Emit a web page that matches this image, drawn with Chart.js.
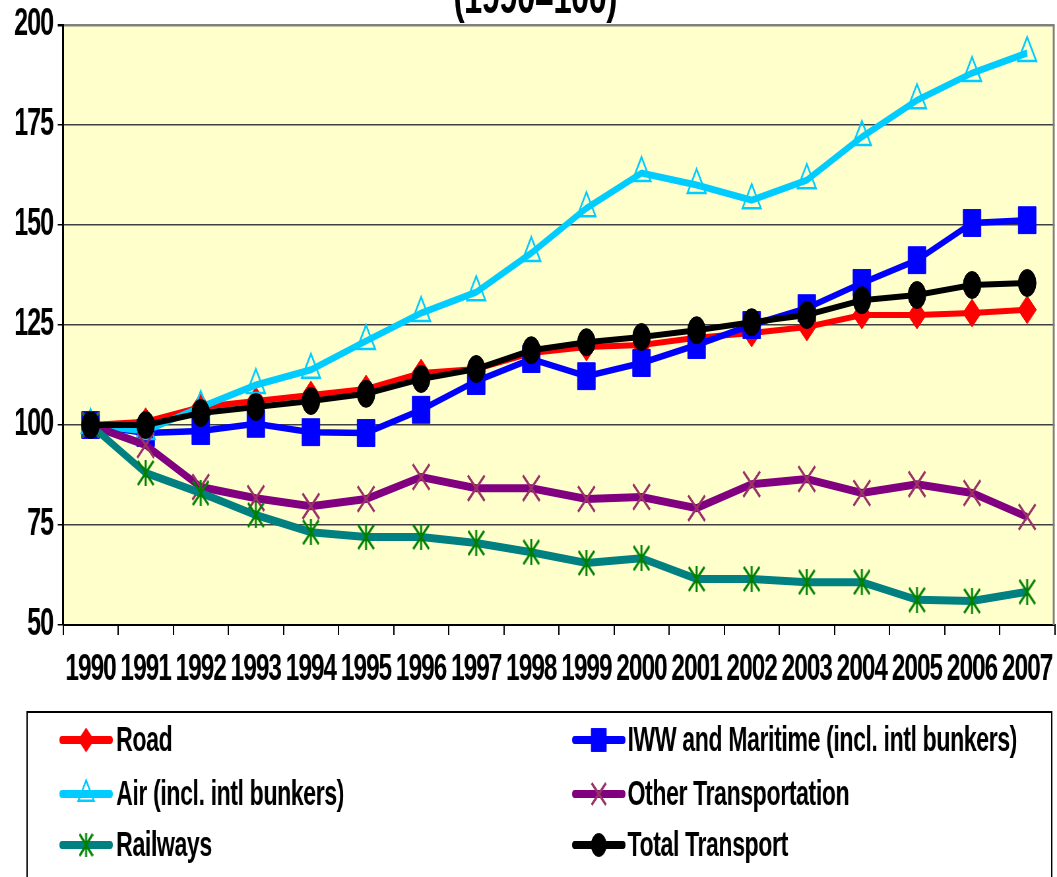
<!DOCTYPE html>
<html>
<head>
<meta charset="utf-8">
<script src="https://cdn.jsdelivr.net/npm/chart.js@4"></script>
<style>
html, body { margin: 0; padding: 0; overflow: hidden; background: #ffffff; width: 1057px; height: 877px; }
#wrap { width: 1602px; height: 877px; transform: scaleX(0.6598); transform-origin: 0 0; }
canvas { display: block; }
</style>
</head>
<body>
<div id="wrap"><canvas id="c" width="1602" height="877" style="width:1602px;height:877px"></canvas></div>
<script>
// ---- Data (index, 1990 = 100) ----
const years = ['1990','1991','1992','1993','1994','1995','1996','1997','1998','1999','2000','2001','2002','2003','2004','2005','2006','2007'];
const road  = [100, 100.8, 104.5, 106, 107.5, 109, 113, 114, 118, 119.5, 120, 121.8, 123, 124.5, 127.5, 127.5, 128, 128.8];
const iww   = [100, 98, 98.5, 100.3, 98.2, 98, 103.8, 111, 116.5, 112.2, 115.5, 120, 125, 129.2, 135.5, 141.2, 150.5, 151.2];
const air   = [100, 98.5, 104.5, 110, 113.8, 121, 128, 133.2, 143, 154.2, 163, 160, 156.2, 161.2, 172, 181.2, 188, 193];
const other = [100, 95, 84.5, 81.7, 79.7, 81.5, 87, 84.2, 84.2, 81.5, 82, 79.2, 85.2, 86.5, 83, 85.2, 83, 77];
const rail  = [100, 88, 83, 77.5, 73.2, 72, 72, 70.5, 68.2, 65.5, 66.7, 61.5, 61.5, 60.7, 60.7, 56.3, 56, 58.3];
const total = [100, 100, 103, 104.5, 106, 107.8, 111.5, 114, 118.7, 120.7, 122, 123.7, 125.7, 127.5, 131.2, 132.5, 135, 135.5];
const seriesLabels = ['Road', 'IWW and Maritime (incl. intl bunkers)', 'Air (incl. intl bunkers)', 'Other Transportation', 'Railways', 'Total Transport'];
const subtitle = '(1990=100)';
const yMin = 50, yMax = 200, yStep = 25;

const FONT = "'Liberation Sans', Arial, Helvetica, sans-serif";

function makeStar(w, h, color, lw) {
  const c = document.createElement('canvas');
  c.width = w; c.height = h;
  const g = c.getContext('2d');
  g.strokeStyle = color; g.lineWidth = lw;
  g.beginPath();
  g.moveTo(w / 2, 0); g.lineTo(w / 2, h);
  g.moveTo(1, 1); g.lineTo(w - 1, h - 1);
  g.moveTo(w - 1, 1); g.lineTo(1, h - 1);
  g.stroke();
  return c;
}
const starImg = makeStar(26, 26, '#008000', 3);
const starImgSmall = makeStar(22, 24, '#008000', 3);

const datasets = [
  { label: seriesLabels[0], data: road, borderColor: '#FF0000', borderWidth: 6,
    pointStyle: 'rectRot', pointRadius: 14, pointBackgroundColor: '#FF0000', pointBorderColor: '#FF0000', pointBorderWidth: 1, order: 6 },
  { label: seriesLabels[1], data: iww, borderColor: '#0000FF', borderWidth: 6.5,
    pointStyle: 'rect', pointRadius: 19, pointBackgroundColor: '#0000FF', pointBorderColor: '#0000FF', pointBorderWidth: 1, order: 5 },
  { label: seriesLabels[2], data: air, borderColor: '#00CCFF', borderWidth: 7,
    pointStyle: 'triangle', pointRadius: 16, pointBackgroundColor: 'rgba(0,0,0,0)', pointBorderColor: '#00CCFF', pointBorderWidth: 2.5, order: 4 },
  { label: seriesLabels[3], data: other, borderColor: '#800080', borderWidth: 8,
    pointStyle: 'crossRot', pointRadius: 18, pointBackgroundColor: '#993366', pointBorderColor: '#993366', pointBorderWidth: 3, order: 3 },
  { label: seriesLabels[4], data: rail, borderColor: '#008080', borderWidth: 8,
    pointStyle: starImg, pointRadius: 13, pointBackgroundColor: '#008000', pointBorderColor: '#008000', pointBorderWidth: 3, order: 2 },
  { label: seriesLabels[5], data: total, borderColor: '#000000', borderWidth: 6,
    pointStyle: 'circle', pointRadius: 13.5, pointBackgroundColor: '#000000', pointBorderColor: '#000000', pointBorderWidth: 1, order: 1 }
];
datasets.forEach(d => { d.tension = 0; d.fill = false; d.pointHoverRadius = d.pointRadius; });

const bgPlugin = {
  id: 'bg',
  beforeDraw(chart) {
    const { ctx, chartArea: a } = chart;
    ctx.save();
    ctx.fillStyle = '#FFFFFF';
    ctx.fillRect(0, 0, chart.width, chart.height);
    ctx.fillStyle = '#FFFFCC';
    ctx.fillRect(a.left, a.top, a.right - a.left, a.bottom - a.top);
    ctx.restore();
    // tight tracking for axis tick labels (persists through this draw)
    ctx.letterSpacing = '-1.5px';
  },
  beforeDatasetsDraw(chart) {
    const { ctx, chartArea: a } = chart;
    ctx.save();
    ctx.strokeStyle = '#808080';
    ctx.lineWidth = 3;
    ctx.beginPath();
    ctx.moveTo(a.right - 1.5, a.top);
    ctx.lineTo(a.right - 1.5, a.bottom);
    ctx.stroke();
    ctx.restore();
  }
};

function drawMarker(ctx, ds, x, y, scale) {
  const st = ds.pointStyle;
  const r = ds.pointRadius * scale;
  ctx.save();
  ctx.fillStyle = ds.pointBackgroundColor;
  ctx.strokeStyle = ds.pointBorderColor;
  ctx.lineWidth = ds.pointBorderWidth;
  ctx.beginPath();
  if (typeof st !== 'string') {
    const img = starImgSmall;
    ctx.drawImage(img, x - img.width / 2, y - img.height / 2);
    ctx.restore();
    return;
  }
  if (st === 'circle') {
    ctx.arc(x, y, r, 0, Math.PI * 2); ctx.fill(); ctx.stroke();
  } else if (st === 'rect') {
    const s = r * Math.SQRT1_2; ctx.rect(x - s, y - s, 2 * s, 2 * s); ctx.fill(); ctx.stroke();
  } else if (st === 'rectRot') {
    ctx.moveTo(x, y - r); ctx.lineTo(x + r, y); ctx.lineTo(x, y + r); ctx.lineTo(x - r, y); ctx.closePath(); ctx.fill(); ctx.stroke();
  } else if (st === 'triangle') {
    ctx.moveTo(x, y - r);
    ctx.lineTo(x + r * Math.sin(Math.PI * 2 / 3), y - r * Math.cos(Math.PI * 2 / 3));
    ctx.lineTo(x - r * Math.sin(Math.PI * 2 / 3), y - r * Math.cos(Math.PI * 2 / 3));
    ctx.closePath(); ctx.fill(); ctx.stroke();
  } else if (st === 'crossRot') {
    const s = r * Math.SQRT1_2;
    ctx.moveTo(x - s, y - s); ctx.lineTo(x + s, y + s);
    ctx.moveTo(x + s, y - s); ctx.lineTo(x - s, y + s);
    ctx.stroke();
  }
  ctx.restore();
}

const legendPlugin = {
  id: 'boxLegend',
  afterDraw(chart) {
    const ctx = chart.ctx;
    ctx.save();
    ctx.strokeStyle = '#000000';
    ctx.lineWidth = 2;
    ctx.strokeRect(41, 712, 1594 - 41, 300);
    const rowsY = [740, 794, 845];
    chart.data.datasets.forEach((ds, i) => {
      const col = i % 2, row = Math.floor(i / 2);
      const x0 = col ? 871 : 94, x1 = col ? 944 : 167, tx = col ? 951 : 176;
      const y = rowsY[row];
      ctx.save();
      ctx.strokeStyle = ds.borderColor;
      ctx.lineWidth = 8;
      ctx.lineCap = 'round';
      ctx.beginPath(); ctx.moveTo(x0, y); ctx.lineTo(x1, y); ctx.stroke();
      ctx.restore();
      drawMarker(ctx, ds, (x0 + x1) / 2, y, 0.85);
      ctx.fillStyle = '#000000';
      ctx.font = 'bold 35px ' + FONT;
      ctx.letterSpacing = '-0.6px';
      ctx.textAlign = 'left';
      ctx.textBaseline = 'middle';
      ctx.fillText(ds.label, tx, y + 1);
    });
    // title line (only its lower part is visible)
    ctx.font = 'bold 50px ' + FONT;
    ctx.letterSpacing = '-1px';
    ctx.textAlign = 'center';
    ctx.textBaseline = 'alphabetic';
    ctx.fillText(subtitle, 811, 13);
    ctx.restore();
  }
};

new Chart(document.getElementById('c'), {
  type: 'line',
  data: { labels: years, datasets },
  options: {
    responsive: false,
    animation: false,
    devicePixelRatio: 1,
    events: [],
    layout: { autoPadding: false, padding: { top: 25, right: 3.5, left: 0, bottom: 0 } },
    plugins: { legend: { display: false }, tooltip: { enabled: false }, title: { display: false } },
    scales: {
      x: {
        type: 'category',
        offset: true,
        grid: { display: true, drawOnChartArea: false, drawTicks: true, tickLength: 10, offset: true, color: '#000000', lineWidth: 2 },
        border: { display: true, color: '#000000', width: 2 },
        ticks: { color: '#000000', font: { family: FONT, size: 37, weight: 'bold' }, padding: 13, maxRotation: 0, autoSkip: false },
        afterFit(scale) { scale.height = 252; scale.paddingLeft = 0; scale.paddingRight = 0; }
      },
      y: {
        min: yMin, max: yMax,
        ticks: { stepSize: yStep, color: '#000000', font: { family: FONT, size: 38, weight: 'bold' }, padding: 7 },
        grid: {
          drawTicks: true, tickLength: 8,
          color: (c) => (c.tick && c.tick.value === yMax) ? '#808080' : '#404040',
          lineWidth: (c) => (c.tick && c.tick.value === yMax) ? 2.5 : 1.5,
          tickColor: '#000000'
        },
        border: { display: true, color: '#000000', width: 3 },
        afterFit(scale) { scale.width = 95.5; scale.paddingTop = 0; scale.paddingBottom = 0; }
      }
    }
  },
  plugins: [bgPlugin, legendPlugin]
});
</script>
</body>
</html>
